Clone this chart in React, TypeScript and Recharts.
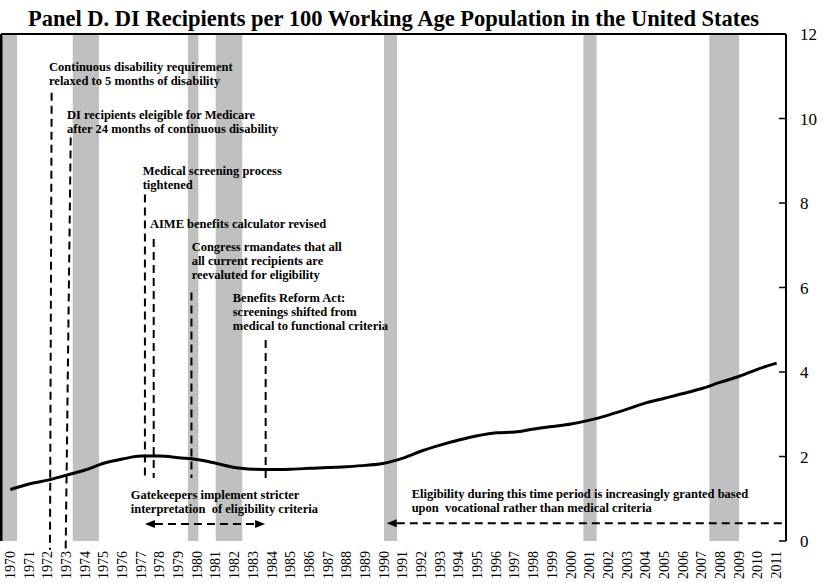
import React from 'react';
import { LineChart, Line, XAxis, YAxis, ReferenceArea, ReferenceLine, ReferenceDot } from 'recharts';

// ---- data ----
const years = [1970, 1971, 1972, 1973, 1974, 1975, 1976, 1977, 1978, 1979, 1980, 1981, 1982, 1983, 1984, 1985, 1986, 1987, 1988, 1989, 1990, 1991, 1992, 1993, 1994, 1995, 1996, 1997, 1998, 1999, 2000, 2001, 2002, 2003, 2004, 2005, 2006, 2007, 2008, 2009, 2010, 2011];
const recipients = [1.22, 1.35, 1.44, 1.56, 1.68, 1.84, 1.94, 2.01, 2.01, 1.97, 1.93, 1.84, 1.74, 1.70, 1.69, 1.70, 1.72, 1.74, 1.76, 1.79, 1.84, 1.96, 2.13, 2.27, 2.39, 2.49, 2.56, 2.58, 2.65, 2.71, 2.77, 2.86, 2.98, 3.12, 3.27, 3.38, 3.49, 3.61, 3.76, 3.90, 4.07, 4.21];
const yTicks = [0, 2, 4, 6, 8, 10, 12];
// recession periods (decimal years)
const recessionStarts = [1970.0, 1973.84, 1980.0, 1981.49, 1990.49, 2001.16, 2007.9];
const recessionEnds = [1970.86, 1975.24, 1980.56, 1982.91, 1991.19, 2001.87, 2009.49];

const eventTexts = [
  ['Continuous disability requirement', 'relaxed to 5 months of disability'],
  ['DI recipients eleigible for Medicare', 'after 24 months of continuous disability'],
  ['Medical screening process', 'tightened'],
  ['AIME benefits calculator revised'],
  ['Congress rmandates that all', 'all current recipients are', 'reevaluted for eligibility'],
  ['Benefits Reform Act:', 'screenings shifted from', 'medical to functional criteria'],
];
// annotation anchor positions in data units
const eventTextX = [1972.57, 1973.53, 1977.58, 1977.97, 1980.2, 1982.4];
const eventTextY = [11.13, 10.0, 8.67, 7.42, 6.87, 5.66];
const eventLineTopX = [1972.71, 1973.73, 1977.7, 1978.17, 1980.19, 1984.16];
const eventLineTopY = [10.61, 9.55, 8.2, 7.15, 5.88, 4.76];
const eventLineBotX = [1972.62, 1973.46, 1977.7, 1978.17, 1980.19, 1984.16];
const eventLineBotY = [-0.21, -0.21, 1.49, 1.49, 1.49, 1.49];

const periodTexts = [
  ['Gatekeepers implement stricter', 'interpretation  of eligibility criteria'],
  ['Eligibility during this time period is increasingly granted based', 'upon  vocational rather than medical criteria'],
];
const periodTextX = [1976.94, 1991.97];
const periodTextY = [0.995, 1.02];
const periodStart = [1977.7, 1990.64];
const periodEnd = [1984.13, 2012];
const periodY = [0.4, 0.42];
const periodArrowLeft = [true, true];
const periodArrowRight = [true, false];

const data = years.map((y, i) => ({ x: y + 0.5, v: recipients[i] }));
const labelTicks = years.map((y) => y + 0.5);
const boundaryTicks = years.map((y) => y + 1);

const FONT = 'Liberation Serif';

const YearTick = (props: any) => {
  const { x, y, payload } = props;
  return (
    <text
      x={x}
      y={y}
      transform={`rotate(-90 ${x} ${y})`}
      textAnchor="end"
      dominantBaseline="central"
      fontFamily={FONT}
      fontSize={14}
      fill="#000"
    >
      {Math.floor(payload.value)}
    </text>
  );
};

const textShape = (lines: string[]) => (props: any) => (
  <text
    x={props.cx}
    y={props.cy}
    fontFamily={FONT}
    fontWeight="bold"
    fontSize={12.5}
    fill="#000"
    style={{ whiteSpace: 'pre' }}
  >
    {lines.map((l, i) => (
      <tspan key={i} x={props.cx} dy={i === 0 ? 0 : 14}>
        {l}
      </tspan>
    ))}
  </text>
);

const arrowShape = (left: boolean, right: boolean) => (p: any) => {
  const { x1, y1, x2, y2 } = p;
  const lx = Math.min(x1, x2);
  const rx = Math.max(x1, x2);
  const ah = 10;
  return (
    <g>
      <line
        x1={left ? lx + ah : lx}
        y1={y1}
        x2={right ? rx - ah : rx}
        y2={y2}
        stroke="#000"
        strokeWidth={2}
        strokeDasharray="8 5"
      />
      {left && <polygon points={`${lx},${y1} ${lx + ah},${y1 - 4} ${lx + ah},${y1 + 4}`} fill="#000" />}
      {right && <polygon points={`${rx},${y1} ${rx - ah},${y1 - 4} ${rx - ah},${y1 + 4}`} fill="#000" />}
    </g>
  );
};

export default function App() {
  return (
    <div style={{ position: 'absolute', left: 0, top: 0, width: 823, height: 582, background: '#fff' }}>
      <div
        style={{
          position: 'absolute',
          left: 0,
          top: 8,
          width: 787,
          textAlign: 'center',
          fontFamily: FONT,
          fontWeight: 'bold',
          fontSize: 22.5,
          lineHeight: '22.5px',
          color: '#000',
          whiteSpace: 'nowrap',
        }}
      >
        Panel D. DI Recipients per 100 Working Age Population in the United States
      </div>
      <LineChart width={823} height={582} data={data} margin={{ top: 34, right: 0, bottom: 0, left: 1 }}>
        <XAxis
          xAxisId="tk"
          type="number"
          dataKey="x"
          domain={[1970, 2012]}
          allowDataOverflow
          ticks={boundaryTicks}
          tick={false}
          tickSize={-5}
          height={0}
          axisLine={{ stroke: '#000', strokeWidth: 2 }}
          tickLine={{ stroke: '#000', strokeWidth: 1.5 }}
        />
        <XAxis
          xAxisId="lab"
          type="number"
          dataKey="x"
          domain={[1970, 2012]}
          allowDataOverflow
          ticks={labelTicks}
          interval={0}
          tick={<YearTick />}
          tickLine={false}
          axisLine={false}
          tickMargin={4}
          height={41}
        />
        <YAxis
          orientation="right"
          domain={[0, 12]}
          ticks={yTicks}
          interval={0}
          width={37}
          tickSize={-7}
          tickMargin={21}
          axisLine={{ stroke: '#000', strokeWidth: 2 }}
          tickLine={{ stroke: '#000', strokeWidth: 1.5 }}
          tick={{ fontFamily: FONT, fontSize: 17, fill: '#000' }}
        />
        {recessionStarts.map((s, i) => (
          <ReferenceArea
            key={`r${i}`}
            xAxisId="lab"
            x1={s}
            x2={recessionEnds[i]}
            y1={0}
            y2={12}
            fill="#c0c0c0"
            fillOpacity={1}
            stroke="none"
            ifOverflow="visible"
          />
        ))}
        <ReferenceLine xAxisId="lab" y={12} stroke="#000" strokeWidth={2} ifOverflow="visible" />
        <ReferenceLine xAxisId="lab" x={1970} stroke="#000" strokeWidth={3} ifOverflow="visible" />
        {eventTexts.map((_, i) => (
          <ReferenceLine
            key={`el${i}`}
            xAxisId="lab"
            segment={[
              { x: eventLineTopX[i], y: eventLineTopY[i] },
              { x: eventLineBotX[i], y: eventLineBotY[i] },
            ]}
            stroke="#000"
            strokeWidth={2}
            strokeDasharray="8 5"
            ifOverflow="visible"
          />
        ))}
        {periodTexts.map((_, i) => (
          <ReferenceLine
            key={`pa${i}`}
            xAxisId="lab"
            segment={[
              { x: periodStart[i], y: periodY[i] },
              { x: periodEnd[i], y: periodY[i] },
            ]}
            ifOverflow="visible"
            shape={arrowShape(periodArrowLeft[i], periodArrowRight[i])}
          />
        ))}
        <Line
          xAxisId="lab"
          type="monotone"
          dataKey="v"
          stroke="#000"
          strokeWidth={3}
          dot={false}
          isAnimationActive={false}
        />
        {eventTexts.map((lines, i) => (
          <ReferenceDot
            key={`et${i}`}
            xAxisId="lab"
            x={eventTextX[i]}
            y={eventTextY[i]}
            r={0}
            ifOverflow="visible"
            shape={textShape(lines)}
          />
        ))}
        {periodTexts.map((lines, i) => (
          <ReferenceDot
            key={`pt${i}`}
            xAxisId="lab"
            x={periodTextX[i]}
            y={periodTextY[i]}
            r={0}
            ifOverflow="visible"
            shape={textShape(lines)}
          />
        ))}
      </LineChart>
    </div>
  );
}
